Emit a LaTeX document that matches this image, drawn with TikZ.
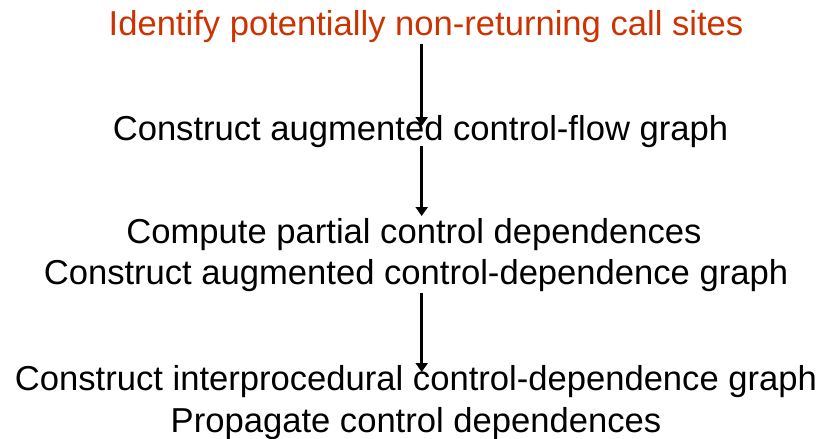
\documentclass[tikz,border=0pt]{standalone}
\usepackage{fontspec}
\setmainfont{Liberation Sans}
\usetikzlibrary{arrows.meta}
\definecolor{stepred}{RGB}{204,51,0}
\begin{document}
\begin{tikzpicture}[x=1pt,y=1pt,
  label/.style={anchor=base,inner sep=0pt,font=\fontsize{34.6}{41.5}\selectfont},
  flow/.style={line width=3pt,-{Triangle[width=12pt,length=9pt]}}]
\useasboundingbox (0,0) rectangle (822,-439);
% stages, placed by baseline
\node[label,text=stepred] (id) at (426,-35.5) {Identify potentially non-returning call sites};
\node[label] (cfg) at (420.5,-140) {Construct augmented control-flow graph};
\node[label] (pcd) at (414,-243) {Compute partial control dependences};
\node[label] (cdg) at (416,-284.5) {Construct augmented control-dependence graph};
\node[label] (icdg) at (416,-390) {Construct interprocedural control-dependence graph};
\node[label] (prop) at (416,-432.5) {Propagate control dependences};
% arrow ends
\coordinate (s1) at (421.7,-44);  \coordinate (t1) at (421.7,-126);
\coordinate (s2) at (421.7,-146); \coordinate (t2) at (421.7,-216);
\coordinate (s3) at (421.7,-293); \coordinate (t3) at (421.7,-372);
\draw[flow] (s1) -- (t1);
\draw[flow] (s2) -- (t2);
\draw[flow] (s3) -- (t3);
\end{tikzpicture}
\end{document}
